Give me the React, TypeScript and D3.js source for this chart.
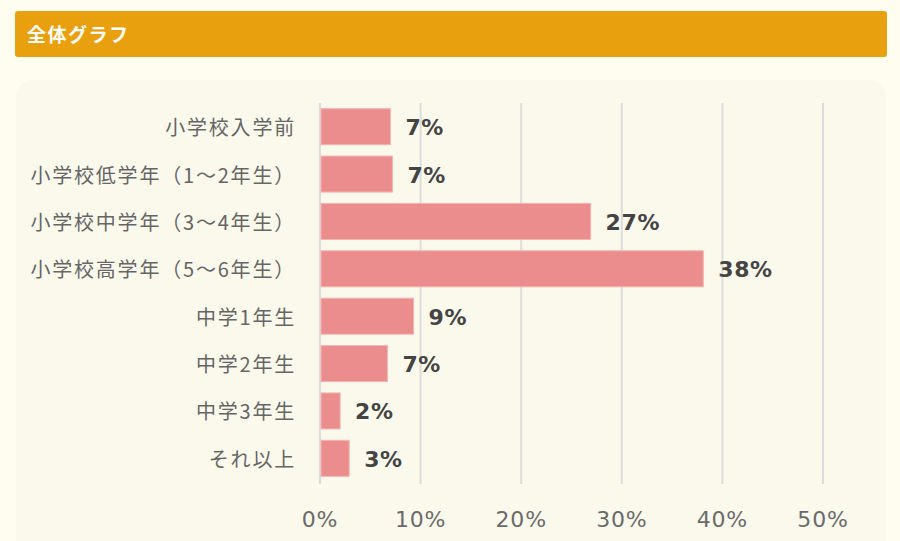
import React, { useEffect, useRef } from 'react';
import * as d3 from 'd3';

const categories: string[] = [
  '小学校入学前',
  '小学校低学年（1～2年生）',
  '小学校中学年（3～4年生）',
  '小学校高学年（5～6年生）',
  '中学1年生',
  '中学2年生',
  '中学3年生',
  'それ以上',
];
const values: number[] = [7.0, 7.2, 26.9, 38.1, 9.3, 6.7, 2.0, 2.9];
const valueLabels: string[] = ['7%', '7%', '27%', '38%', '9%', '7%', '2%', '3%'];
const ticks: number[] = [0, 10, 20, 30, 40, 50];

const W = 900;
const H = 541;
const FONT = '"Noto Sans CJK JP", "Noto Sans", sans-serif';
const NUMFONT = '"DejaVu Sans", "Noto Sans CJK JP", sans-serif';

export default function App() {
  const ref = useRef<SVGSVGElement>(null);

  useEffect(() => {
    const svg = d3.select(ref.current);
    svg.selectAll('*').remove();

    // page background
    svg.append('rect').attr('width', W).attr('height', H).attr('fill', '#fffdf0');

    // title bar
    svg.append('rect')
      .attr('x', 15).attr('y', 11).attr('width', 872).attr('height', 46)
      .attr('rx', 3).attr('fill', '#e9a00e');
    svg.append('text')
      .attr('x', 27).attr('y', 33)
      .attr('dominant-baseline', 'central')
      .attr('fill', '#fff').attr('font-weight', 'bold')
      .attr('font-size', 19).attr('letter-spacing', 1.5).attr('font-family', FONT)
      .text('全体グラフ');

    // panel
    svg.append('rect')
      .attr('x', 16).attr('y', 80).attr('width', 870).attr('height', 500)
      .attr('rx', 16).attr('fill', '#fbf9ec');

    const x = d3.scaleLinear().domain([0, 50]).range([320, 823]);
    const y = d3.scaleBand().domain(categories).range([103, 482]).paddingInner(0.24).paddingOuter(0.12);

    svg.selectAll('line.grid')
      .data(ticks)
      .join('line')
      .attr('class', 'grid')
      .attr('x1', d => x(d)).attr('x2', d => x(d))
      .attr('y1', 103).attr('y2', 484)
      .attr('stroke', '#dcdcdc').attr('stroke-width', 2);

    svg.selectAll('text.tick')
      .data(ticks)
      .join('text')
      .attr('class', 'tick')
      .attr('x', d => x(d)).attr('y', 519)
      .attr('text-anchor', 'middle').attr('dominant-baseline', 'central')
      .attr('fill', '#6b6b6b').attr('font-size', 22).attr('letter-spacing', 0.8)
      .attr('font-family', NUMFONT)
      .text(d => d + '%');

    svg.selectAll('rect.bar')
      .data(values)
      .join('rect')
      .attr('class', 'bar')
      .attr('x', x(0) + 1)
      .attr('y', (d, i) => y(categories[i]) as number)
      .attr('width', d => x(d) - x(0) - 1)
      .attr('height', y.bandwidth())
      .attr('fill', '#ec8d8d')
      .attr('stroke', '#f3b3b3').attr('stroke-width', 1);

    svg.selectAll('text.val')
      .data(values)
      .join('text')
      .attr('class', 'val')
      .attr('x', d => x(d) + 15)
      .attr('y', (d, i) => (y(categories[i]) as number) + y.bandwidth() / 2 + 1)
      .attr('dominant-baseline', 'central')
      .attr('fill', '#444').attr('font-weight', 'bold')
      .attr('font-size', 22).attr('letter-spacing', 0.6).attr('font-family', NUMFONT)
      .text((d, i) => valueLabels[i]);

    svg.selectAll('text.cat')
      .data(categories)
      .join('text')
      .attr('class', 'cat')
      .attr('x', 296)
      .attr('y', d => (y(d) as number) + y.bandwidth() / 2)
      .attr('text-anchor', 'end').attr('dominant-baseline', 'central')
      .attr('fill', '#666').attr('font-size', 20).attr('letter-spacing', 1.8)
      .attr('font-family', FONT)
      .text(d => d);
  }, []);

  return <svg ref={ref} width={W} height={H} style={{ position: 'absolute', left: 0, top: 0 }} />;
}
